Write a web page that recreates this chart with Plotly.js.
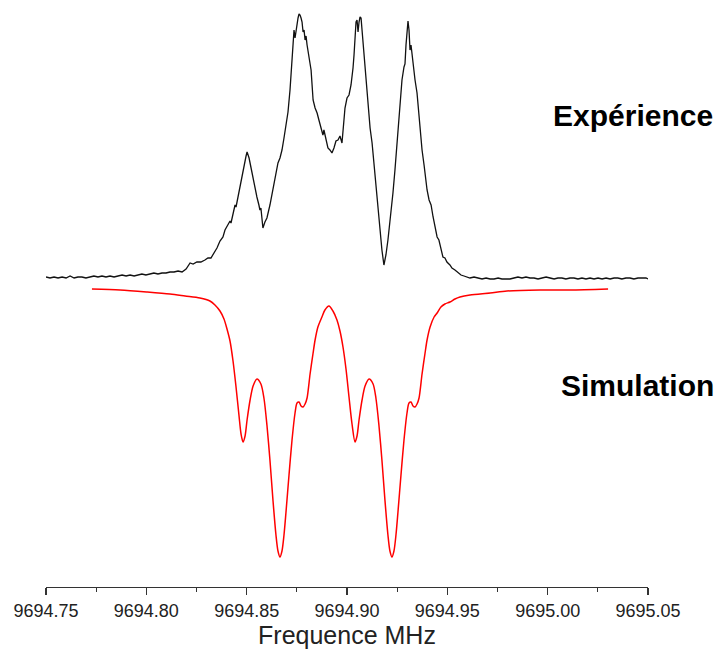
<!DOCTYPE html>
<html>
<head>
<meta charset="utf-8">
<script src="https://cdn.plot.ly/plotly-3.0.1.min.js"></script>
<style>html,body{margin:0;padding:0;background:#fff;}#chart{width:721px;height:652px;}</style>
</head>
<body>
<div id="chart"></div>
<script>
// Frequency origin (MHz); offsets below are in kHz above it
const F0 = 9694.75;

// Experimental spectrum: frequency offset (kHz) and intensity (a.u.)
const expKHz = [0.0,2.0,4.0,6.0,8.0,10.0,12.0,14.0,15.9,17.9,19.9,21.9,23.9,25.9,27.9,29.9,31.9,33.9,35.9,37.9,39.9,41.9,43.9,45.8,47.8,49.8,51.8,53.8,55.8,57.8,59.8,61.8,63.8,65.8,67.8,69.8,71.8,73.3,75.2,77.2,79.2,80.7,82.2,83.7,85.2,86.7,88.2,89.2,90.7,91.7,92.2,93.2,94.2,94.7,95.7,96.7,97.7,98.7,99.7,100.2,101.2,102.2,103.2,104.2,105.1,106.1,106.6,107.1,107.6,108.1,109.1,110.1,111.6,113.1,114.6,115.6,116.6,117.6,118.6,119.6,120.6,121.6,122.1,122.6,123.1,123.6,124.1,124.6,125.1,125.6,126.1,126.6,127.1,127.6,128.1,128.6,129.1,129.6,130.1,130.6,131.1,131.6,132.1,132.6,133.1,134.1,135.1,136.0,137.0,138.0,138.5,139.5,140.5,141.5,142.5,143.5,144.5,145.5,146.5,147.5,148.0,148.5,149.0,150.0,151.0,152.0,152.5,153.0,153.5,154.0,154.5,155.0,155.5,156.0,156.5,157.0,157.5,158.0,159.0,160.0,160.5,161.5,162.5,163.5,164.9,166.4,167.4,168.4,169.4,170.4,171.4,172.9,173.9,175.4,176.4,177.4,178.4,178.9,179.4,179.9,180.4,180.9,181.4,181.9,182.4,182.9,183.9,184.9,185.9,186.4,187.4,188.4,189.9,190.9,191.9,192.9,193.9,194.9,195.8,196.8,197.8,198.8,199.8,201.3,202.3,203.8,205.3,206.8,208.3,209.8,211.3,213.3,215.3,217.3,219.3,221.3,223.3,225.3,227.2,229.2,231.2,233.2,235.2,237.2,239.2,241.2,243.2,245.2,247.2,249.2,251.2,253.2,255.1,257.1,259.1,261.1,263.1,265.1,267.1,269.1,271.1,273.1,275.1,277.1,279.1,281.1,283.1,285.0,287.0,289.0,291.0,293.0,295.0,297.0,299.0,300.0];
const expInt = [0,-1,0,-1,0,-1,1,-1,0,0,-1,0,1,0,1,0,1,0,1,2,1,2,1,2,3,2,3,4,3,4,4,5,5,6,5,8,14,13,15,15,17,19,19,24,29,36,40,47,52,56,54,65,72,70,81,92,102,112,121,125,119,109,99,87,80,72,67,69,61,49,55,59,72,87,102,114,119,127,139,152,165,187,202,222,242,247,239,247,252,259,263,262,259,255,245,247,237,241,232,225,219,214,207,192,177,169,164,157,149,142,147,137,129,127,124,129,136,137,141,134,147,159,169,179,182,192,200,209,222,239,255,257,245,255,260,259,247,227,205,182,170,149,134,112,77,44,27,12,22,37,55,84,107,144,169,197,210,213,232,242,256,247,227,232,222,210,197,184,159,144,127,112,87,77,72,60,49,40,37,29,20,19,15,12,9,7,4,2,1,0,-1,0,-1,-2,-1,-2,-2,-1,-2,-2,-2,-1,0,-1,0,-1,-1,-2,-1,0,-1,-2,-1,-1,-2,-1,-1,-2,-1,-2,-1,-2,-1,-2,-1,-2,-1,-1,-2,-1,-1,-2,-1,-1,-1,-2];

// Simulated spectrum: frequency offset (kHz) and intensity (a.u., plotted downward)
const simKHz = [22.9,36.9,50.3,61.8,69.3,76.7,81.7,84.2,86.7,88.7,90.2,91.7,93.2,94.7,96.2,97.2,98.2,99.2,100.2,101.7,103.2,105.1,107.1,108.6,110.1,111.6,113.1,114.6,115.6,116.6,117.6,118.6,119.6,121.1,122.6,124.1,125.1,126.1,127.1,128.1,129.1,130.1,131.6,133.1,134.1,135.5,137.5,139.0,141.0,143.0,145.0,146.5,148.0,149.5,151.0,152.5,154.0,155.0,156.0,157.5,159.0,161.0,163.0,164.4,165.9,167.4,168.9,170.4,171.4,172.4,173.4,174.4,175.4,176.9,178.4,179.9,180.9,181.9,182.9,183.9,184.9,185.9,187.4,188.9,189.9,191.4,193.4,194.9,196.8,198.8,201.3,203.8,206.3,211.3,221.3,229.7,246.2,261.1,280.1];
const simInt = [0,-1,-3,-5,-7,-9,-12,-16,-22,-30,-40,-52,-72,-98,-127,-145,-153,-147,-131,-111,-97,-90,-95,-109,-136,-171,-211,-246,-262,-268,-262,-246,-223,-186,-151,-124,-114,-113,-117,-118,-115,-109,-85,-64,-51,-38,-28,-21,-17,-22,-31,-42,-58,-80,-108,-135,-153,-147,-131,-111,-97,-90,-95,-109,-136,-171,-211,-246,-262,-268,-262,-246,-223,-186,-151,-124,-114,-113,-117,-118,-115,-109,-85,-64,-51,-38,-28,-24,-18,-15,-13,-10,-8,-6,-4,-2,-1,-1,0];

// Axis tick positions and labels
const tickValues = [9694.75, 9694.80, 9694.85, 9694.90, 9694.95, 9695.00, 9695.05];
const tickLabels = ['9694.75','9694.80','9694.85','9694.90','9694.95','9695.00','9695.05'];
const labels = ['Expérience', 'Simulation'];

const EXP_OFFSET = 310, SIM_OFFSET = 298;
const toMHz = a => a.map(d => F0 + d / 1000);

const traces = [
  {x: toMHz(expKHz), y: expInt.map(v => v + EXP_OFFSET), type: 'scatter', mode: 'lines',
   line: {color: '#111111', width: 1.3}, hoverinfo: 'skip', showlegend: false},
  {x: toMHz(simKHz), y: simInt.map(v => v + SIM_OFFSET), type: 'scatter', mode: 'lines',
   line: {color: '#ff0000', width: 1.5, shape: 'spline', smoothing: 0.8}, hoverinfo: 'skip', showlegend: false}
];

const layout = {
  width: 721, height: 652,
  margin: {l: 46, r: 73, t: 0, b: 65},
  paper_bgcolor: '#ffffff', plot_bgcolor: '#ffffff',
  font: {family: 'Liberation Sans, Arial, sans-serif', color: '#222'},
  xaxis: {
    range: [9694.75, 9695.05],
    tickmode: 'array', tickvals: tickValues, ticktext: tickLabels,
    showline: true, linecolor: '#333', linewidth: 1.3,
    ticks: 'outside', ticklen: 7, tickwidth: 1.3, tickcolor: '#333',
    minor: {ticks: 'outside', ticklen: 4, tickwidth: 1.2, tickcolor: '#333', dtick: 0.025, tick0: 9694.75, showgrid: false},
    showgrid: false, zeroline: false,
    tickfont: {size: 18, color: '#222'},
    title: {text: 'Frequence MHz', font: {size: 25, color: '#222'}, standoff: 5}
  },
  yaxis: {range: [0, 587], visible: false, fixedrange: true},
  annotations: [
    {text: '<b>' + labels[0] + '</b>', xref: 'paper', yref: 'paper', x: 0.975, y: 0.804,
     xanchor: 'center', yanchor: 'middle', showarrow: false, font: {size: 30, color: '#000'}},
    {text: '<b>' + labels[1] + '</b>', xref: 'paper', yref: 'paper', x: 0.983, y: 0.344,
     xanchor: 'center', yanchor: 'middle', showarrow: false, font: {size: 30, color: '#000'}}
  ]
};

Plotly.newPlot('chart', traces, layout, {displayModeBar: false, staticPlot: true});
</script>
</body>
</html>
